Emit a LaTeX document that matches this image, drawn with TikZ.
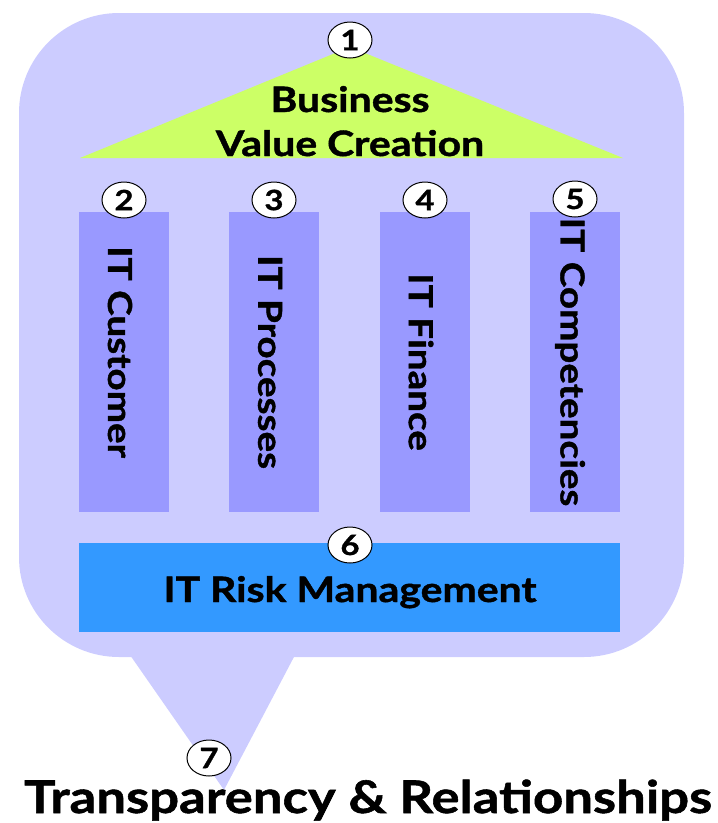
\documentclass[tikz,border=0pt]{standalone}
\usepackage{fontspec}
\setmainfont{Lato}[BoldFeatures={FakeStretch=1.17,FakeBold=1.2}]
\usetikzlibrary{shapes.geometric}
\definecolor{calloutcol}{HTML}{CCCCFF}
\definecolor{roofcol}{HTML}{CCFF66}
\definecolor{pillarcol}{HTML}{9999FF}
\definecolor{riskcol}{HTML}{3399FF}
\begin{document}
\begin{tikzpicture}[x=1pt,y=-1pt,
  num/.style={ellipse,draw=black,line width=1pt,fill=white,minimum width=44pt,minimum height=36pt,inner sep=0pt,font=\bfseries\fontsize{28}{28}\selectfont},
  pillar/.style={fill=pillarcol,draw=none,minimum width=90pt,minimum height=300pt,inner sep=0pt},
  ptext/.style={rotate=-90,font=\bfseries\fontsize{33}{33}\selectfont},
  bigtext/.style={font=\bfseries\fontsize{35}{35}\selectfont,anchor=base}]
\useasboundingbox (0,0) rectangle (718,823);
% callout
\fill[calloutcol,rounded corners=100pt] (19,13) rectangle (684,657);
\fill[calloutcol] (130,655) -- (224,790) -- (295,655) -- cycle;
% roof
\fill[roofcol] (80,158) -- (350,47) -- (623,158) -- cycle;
\node[bigtext] (roofa) at (350,112) {Business};
\node[bigtext] (roofb) at (350,156) {Value Creation};
% pillars
\node[pillar] (p2) at (124,362) {};
\node[pillar] (p3) at (274,362) {};
\node[pillar] (p4) at (425,362) {};
\node[pillar] (p5) at (575,362) {};
\node[ptext] (t2) at (120,352) {IT Customer};
\node[ptext] (t3) at (270,362) {IT Processes};
\node[ptext] (t4) at (421,362) {IT Finance};
\node[ptext] (t5) at (570,362) {IT Competencies};
% risk
\node[fill=riskcol,minimum width=541pt,minimum height=89pt,inner sep=0pt] (risk) at (349.5,587.5) {};
\node[bigtext] (risktext) at (350,602) {IT Risk Management};
% numbers
\node[num] (n1) at (350,40) {1};
\node[num] (n2) at (124,200) {2};
\node[num] (n3) at (274,200) {3};
\node[num] (n4) at (425,200) {4};
\node[num] (n5) at (575,199) {5};
\node[num] (n6) at (350,545) {6};
\node[num] (n7) at (209,758) {7};
% bottom text
\node[font=\bfseries\fontsize{45}{45}\selectfont,anchor=base] (bottom) at (368,813) {Transparency \& Relationships};
\end{tikzpicture}
\end{document}
